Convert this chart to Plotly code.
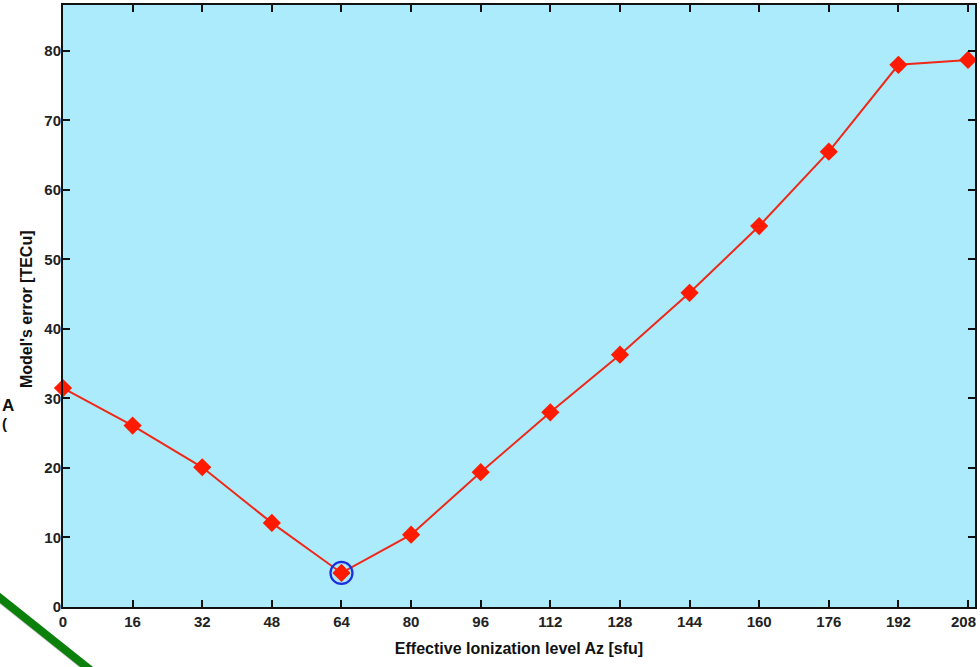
import plotly.graph_objects as go

ionization = [0, 16, 32, 48, 64, 80, 96, 112, 128, 144, 160, 176, 192, 208]
model_error = [31.5, 26.1, 20.1, 12.1, 4.9, 10.4, 19.4, 28.0, 36.3, 45.2, 54.8, 65.5, 78.0, 78.7]
best_x = [64]
best_y = [4.9]
x_ticks = [0, 16, 32, 48, 64, 80, 96, 112, 128, 144, 160, 176, 192, 208]
y_ticks = [0, 10, 20, 30, 40, 50, 60, 70, 80]

tick_font = dict(family="Liberation Sans Narrow, Arial Narrow, Liberation Sans", size=15,
                 color="#222222", weight="bold")
title_font = dict(family="Liberation Sans, Arial", size=16, color="#111111", weight="bold")

fig = go.Figure()
fig.add_trace(go.Scatter(
    x=ionization, y=model_error, mode="lines+markers",
    line=dict(color="#f02818", width=2),
    marker=dict(symbol="diamond", size=14, color="#ff1a00"),
    showlegend=False, cliponaxis=False,
))
fig.add_trace(go.Scatter(
    x=best_x, y=best_y, mode="markers",
    marker=dict(symbol="circle-open", size=22, color="#1a2fe0", line=dict(width=2.2)),
    showlegend=False, cliponaxis=False,
))

axis_common = dict(
    showgrid=False, zeroline=False, showline=True, linecolor="#111111", linewidth=2,
    ticks="inside", ticklen=7, tickwidth=2, tickcolor="#111111", mirror="ticks",
    tickfont=tick_font,
)
# last x tick label is drawn as an annotation so it stays inside the page
x_text = [str(v) for v in x_ticks[:-1]] + [""]
fig.update_xaxes(range=[0, 209.6], tickvals=x_ticks, ticktext=x_text,
                 title=dict(text="Effective Ionization level Az [sfu]", font=title_font,
                            standoff=14),
                 **axis_common)
fig.update_yaxes(range=[0, 86.6], tickvals=y_ticks, ticktext=[str(v) for v in y_ticks],
                 ticklabelstandoff=-3,
                 **axis_common)

fig.update_layout(
    width=980, height=667,
    margin=dict(l=63, r=3, t=5, b=60),
    plot_bgcolor="#acebfc", paper_bgcolor="white",
    font=dict(family="Liberation Sans, Arial"),
)

fig.add_annotation(xref="paper", yref="y", x=(980 - 63) / 914, y=0, yshift=-14,
                   xanchor="right", yanchor="middle",
                   text=str(x_ticks[-1]), showarrow=False, font=tick_font)

# y-axis title
fig.add_annotation(xref="paper", yref="paper", x=(26 - 63) / 914, y=(607 - 309) / 602,
                   xanchor="center", yanchor="middle", textangle=-90,
                   text="Model's error [TECu]", showarrow=False, font=title_font)

# fragments at the left edge of the original image
fig.add_annotation(xref="paper", yref="paper", x=-63 / 914, y=(607 - 405) / 602, xanchor="left",
                   text="A", showarrow=False,
                   font=dict(size=17, color="#111111", weight="bold"))
fig.add_annotation(xref="paper", yref="paper", x=-63 / 914, y=(607 - 434) / 602, xanchor="left",
                   text="(", showarrow=False,
                   font=dict(size=15, color="#111111", weight="bold"))
# green diagonal stroke at bottom-left
fig.add_shape(type="line", xref="paper", yref="paper",
              x0=(-10 - 63) / 914 + 0.002, y0=(607 - 590) / 602 - 0.004,
              x1=(98 - 63) / 914 + 0.002, y1=(607 - 676) / 602 - 0.004,
              line=dict(color="rgba(0,0,0,0.25)", width=8))
fig.add_shape(type="line", xref="paper", yref="paper",
              x0=(-10 - 63) / 914, y0=(607 - 590) / 602,
              x1=(98 - 63) / 914, y1=(607 - 676) / 602,
              line=dict(color="#0b800b", width=8))

fig.write_html("out.html")
